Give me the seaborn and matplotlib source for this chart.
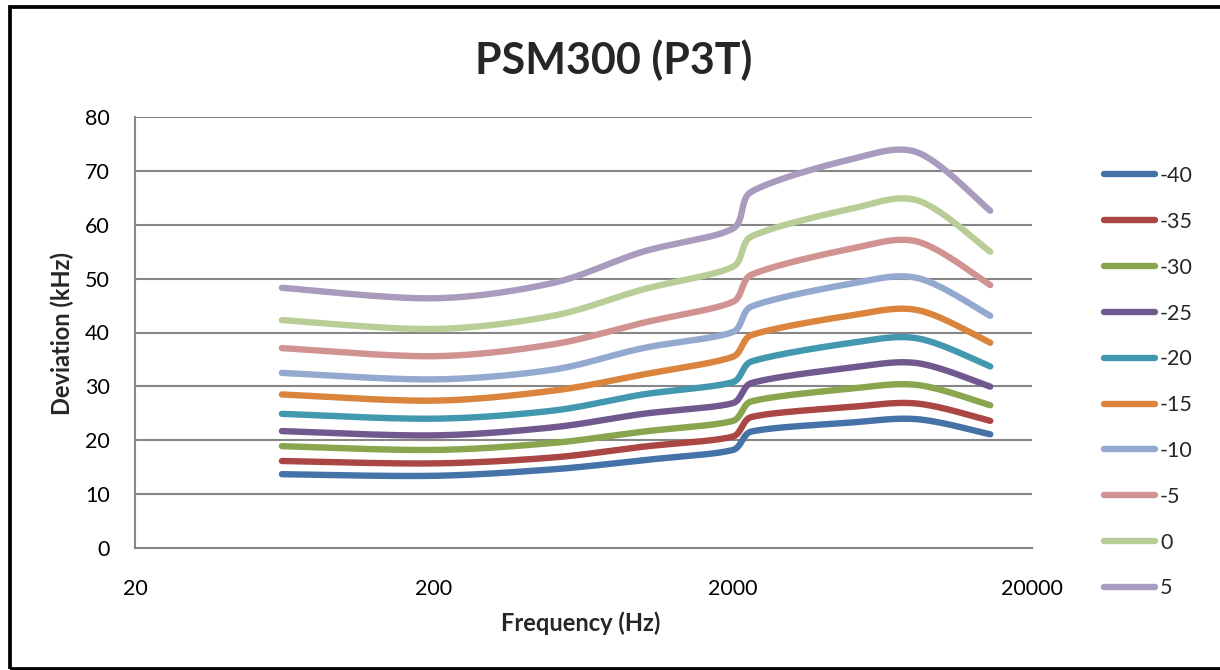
import numpy as np
import pandas as pd
import matplotlib
matplotlib.use("Agg")
import matplotlib.pyplot as plt
import seaborn as sns
from matplotlib.patches import Rectangle

# ---- data ----
freq = [62, 200, 500, 1000, 2000, 2300, 5000, 8300, 14500]
series_labels = ["-40", "-35", "-30", "-25", "-20", "-15", "-10", "-5", "0", "5"]
dev_m40 = [13.7, 13.4, 14.6, 16.3, 18.2, 21.6, 23.3, 23.9, 21.1]
dev_m35 = [16.15, 15.7, 16.8, 18.8, 20.7, 24.3, 26.2, 26.8, 23.6]
dev_m30 = [18.9, 18.2, 19.5, 21.6, 23.6, 27.2, 29.6, 30.25, 26.5]
dev_m25 = [21.7, 20.9, 22.4, 24.9, 26.9, 30.6, 33.5, 34.3, 29.95]
dev_m20 = [24.9, 24.0, 25.5, 28.5, 30.8, 34.6, 38.1, 38.9, 33.7]
dev_m15 = [28.5, 27.35, 29.2, 32.2, 35.5, 39.5, 43.2, 44.15, 38.1]
dev_m10 = [32.5, 31.3, 33.1, 37.1, 40.1, 44.8, 49.1, 50.1, 43.1]
dev_m5 = [37.1, 35.6, 37.8, 41.8, 45.7, 50.7, 55.6, 56.85, 48.8]
dev_0 = [42.3, 40.65, 43.1, 48.0, 52.2, 57.8, 63.0, 64.5, 55.0]
dev_p5 = [48.3, 46.35, 49.2, 55.0, 59.3, 66.1, 72.2, 73.4, 62.6]
all_series = [dev_m40, dev_m35, dev_m30, dev_m25, dev_m20, dev_m15,
              dev_m10, dev_m5, dev_0, dev_p5]
colors = ["#4572A7", "#AA4643", "#89A54E", "#71588F", "#4198AF",
          "#DB843D", "#93A9CF", "#D19392", "#B9CD96", "#A99BBD"]
x_ticks = [20, 200, 2000, 20000]
y_ticks = [0, 10, 20, 30, 40, 50, 60, 70, 80]

# screen-space scale factors (px per decade, px per kHz) used for smoothing
SX, SY = 299.0, 5.3875


def smooth_curve(xs, ys, steps=60):
    """Smoothed line: Catmull-Rom Bezier in screen space, control arms
    limited to a third of the segment length."""
    P = np.column_stack([np.log10(xs) * SX, np.asarray(ys, float) * SY])
    n = len(P)
    out = [P[0]]
    t = np.linspace(0, 1, steps)[1:, None]
    for i in range(n - 1):
        p0 = P[max(i - 1, 0)]; p1 = P[i]; p2 = P[i + 1]; p3 = P[min(i + 2, n - 1)]
        L = np.hypot(*(p2 - p1)) / 3.0
        v1 = (p2 - p0) / 6.0
        v2 = (p3 - p1) / 6.0
        n1 = np.hypot(*v1); n2 = np.hypot(*v2)
        if n1 > L:
            v1 = v1 * L / n1
        if n2 > L:
            v2 = v2 * L / n2
        c1 = p1 + v1
        c2 = p2 - v2
        seg = ((1 - t) ** 3) * p1 + 3 * ((1 - t) ** 2) * t * c1 + 3 * (1 - t) * t ** 2 * c2 + t ** 3 * p2
        out.extend(seg)
    out = np.array(out)
    return 10 ** (out[:, 0] / SX), out[:, 1] / SY


rows = []
for lab, vals in zip(series_labels, all_series):
    fx, fy = smooth_curve(freq, vals)
    rows.append(pd.DataFrame({"freq": fx, "dev": fy, "series": lab}))
df = pd.concat(rows, ignore_index=True)

sns.set_theme(style="white")
plt.rcParams["font.family"] = ["Lato", "DejaVu Sans"]

W, H = 1220, 670
fig = plt.figure(figsize=(W / 100, H / 100), dpi=100)
fig.patch.set_facecolor("white")
ax = fig.add_axes([135 / W, 1 - 548 / H, (1032 - 135) / W, (548 - 117) / H])

sns.lineplot(data=df, x="freq", y="dev", hue="series", hue_order=series_labels,
             palette=colors, linewidth=4.6, estimator=None, sort=False,
             solid_capstyle="round", solid_joinstyle="round", ax=ax, legend=True)

ax.set_xscale("log")
ax.set_xlim(20, 20000)
ax.set_ylim(0, 80)
ax.set_xticks(x_ticks)
ax.set_xticklabels([str(v) for v in x_ticks])
ax.minorticks_off()
ax.set_yticks(y_ticks)
ax.set_yticklabels([str(v) for v in y_ticks])
ax.tick_params(axis="both", length=0, labelsize=15.5, colors="black")
ax.tick_params(axis="y", pad=18)
ax.tick_params(axis="x", pad=22)
ax.yaxis.grid(True, color="#868686", linewidth=1.5)
ax.xaxis.grid(False)
ax.set_axisbelow(True)
for s in ["top", "right"]:
    ax.spines[s].set_visible(False)
for s in ["left", "bottom"]:
    ax.spines[s].set_color("#868686")
    ax.spines[s].set_linewidth(1.5)

ax.set_xlabel("")
ax.set_ylabel("")
fig.text(581 / W, 1 - 623 / H, "Frequency (Hz)", ha="center", va="center",
         fontsize=17, fontweight="bold")
fig.text(62 / W, 1 - 333 / H, "Deviation (kHz)", ha="center", va="center",
         rotation=90, fontsize=17, fontweight="bold")

handles, labels = ax.get_legend_handles_labels()
leg = ax.legend(handles, labels, loc="upper left",
                bbox_to_anchor=(1104 / W, 1 - 166 / H), bbox_transform=fig.transFigure,
                frameon=False, fontsize=15.5, handlelength=2.35, handletextpad=0.25,
                labelspacing=1.2, borderpad=0, borderaxespad=0)
for ln in leg.get_lines():
    ln.set_linewidth(4.6)
    ln.set_solid_capstyle("round")

fig.text(614 / W, 1 - 60 / H, "PSM300 (P3T)", ha="center", va="center",
         fontsize=31, fontweight="bold")

fig.patches.append(Rectangle((9.5 / W, 1.5 / H), (W + 20) / W, (H - 8) / H,
                             transform=fig.transFigure, fill=False,
                             edgecolor="black", linewidth=2.7, zorder=10))

fig.savefig("out.png", dpi=100, facecolor="white")
